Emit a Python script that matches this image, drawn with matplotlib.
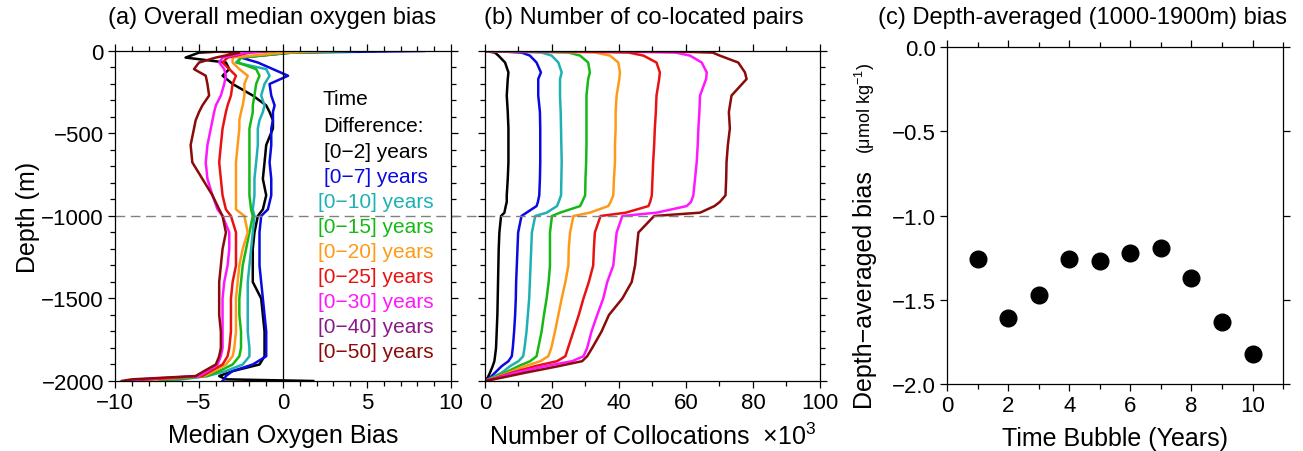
import numpy as np
import matplotlib
matplotlib.use("Agg")
import matplotlib.pyplot as plt
from matplotlib.ticker import MultipleLocator, FuncFormatter

plt.rcParams['font.family'] = ['Liberation Sans', 'DejaVu Sans']
plt.rcParams['mathtext.fontset'] = 'custom'
plt.rcParams['mathtext.rm'] = 'Liberation Sans'
plt.rcParams['mathtext.it'] = 'Liberation Sans'

# time-difference windows
windows = ["[0\u22122] years", "[0\u22127] years", "[0\u221210] years", "[0\u221215] years",
           "[0\u221220] years", "[0\u221225] years", "[0\u221230] years", "[0\u221240] years",
           "[0\u221250] years"]
colors = ["#000000", "#0a0ae0", "#1fb0b4", "#16b816", "#ff9a18",
          "#e81212", "#ff18ff", "#8a1a8a", "#8b0a0a"]
# windows that have a drawn profile (the [0-40] profile sits under [0-50])
drawn = [0, 1, 2, 3, 4, 5, 6, 8]

# (a) median oxygen bias profiles
depth_a = [0, 10, 40, 70, 110, 150, 200, 270, 330, 370, 420, 470, 570, 675, 775, 875,
           960, 1000, 1100, 1200, 1300, 1400, 1500, 1600, 1700, 1800, 1850, 1900,
           1940, 1970, 1990, 2000]
bias = {
    0: [-3.0, -5.0, -5.8, -3.4, -3.2, -3.6, -3.0, -1.8, -1.0, -0.8, -0.6, -0.6, -1.0, -1.1,
        -1.2, -1.0, -1.2, -1.5, -1.7, -1.8, -1.8, -1.8, -1.3, -1.2, -1.1, -1.1, -1.1, -1.4,
        -3.0, -3.8, -3.4, 1.8],
    1: [8.4, 0.5, -2.5, -1.5, -0.6, 0.3, -0.8, -0.7, -0.5, -0.6, -0.6, -0.7, -0.7, -0.8,
        -0.7, -0.7, -0.9, -1.3, -1.4, -1.4, -1.4, -1.3, -1.2, -1.1, -1.0, -1.0, -1.0, -1.8,
        -3.0, -3.4, -3.5, -3.6],
    2: [3.5, 0.0, -2.5, -2.8, -1.0, -0.8, -1.1, -1.3, -1.1, -1.2, -1.4, -1.5, -1.5, -1.6,
        -1.7, -1.7, -1.8, -1.7, -1.8, -1.9, -2.0, -2.1, -2.1, -2.1, -2.1, -2.0, -2.0, -2.4,
        -3.4, -4.5, -6.0, -6.7],
    3: [4.3, 0.5, -2.5, -2.7, -1.6, -1.4, -1.6, -1.7, -1.8, -1.8, -1.9, -2.0, -2.0, -2.0,
        -2.0, -2.0, -1.9, -1.8, -2.0, -2.2, -2.4, -2.5, -2.6, -2.6, -2.5, -2.5, -2.6, -3.0,
        -3.8, -4.5, -6.5, -7.4],
    4: [2.7, 0.0, -3.0, -3.0, -2.6, -2.1, -2.3, -2.3, -2.4, -2.5, -2.6, -2.6, -2.7, -2.8,
        -2.8, -2.8, -2.8, -2.3, -2.1, -2.4, -2.6, -2.7, -2.8, -2.8, -2.8, -2.9, -3.0, -3.4,
        -4.1, -4.7, -7.5, -8.8],
    5: [-0.5, -2.0, -3.3, -3.6, -3.2, -2.8, -3.0, -3.1, -3.3, -3.4, -3.5, -3.6, -3.7, -3.8,
        -3.7, -3.6, -3.4, -3.1, -2.8, -2.8, -2.8, -3.0, -3.1, -3.1, -3.1, -3.2, -3.3, -3.6,
        -4.3, -4.8, -8.0, -9.4],
    6: [-1.0, -2.2, -3.6, -3.8, -3.5, -3.4, -3.5, -3.7, -4.0, -4.1, -4.2, -4.3, -4.5, -4.6,
        -4.5, -4.2, -3.9, -3.6, -3.2, -3.2, -3.3, -3.5, -3.6, -3.6, -3.6, -3.6, -3.7, -3.9,
        -4.5, -5.0, -8.5, -9.2],
    8: [-4.8, -2.6, -4.0, -5.0, -5.3, -4.6, -4.5, -4.4, -4.8, -5.0, -5.2, -5.3, -5.5, -5.4,
        -4.8, -4.2, -3.8, -3.6, -3.4, -3.6, -3.7, -3.8, -3.8, -3.8, -3.7, -3.7, -3.8, -4.0,
        -4.7, -5.2, -9.0, -9.6],
}

# (b) number of co-located pairs (x10^3)
depth_b = [0, 3, 10, 28, 70, 130, 170, 270, 370, 470, 570, 675, 775, 875, 915, 940, 980,
           1000, 1100, 1200, 1300, 1400, 1500, 1600, 1700, 1800, 1850, 1880, 1910, 1950,
           1980, 2000]
pairs = {
    0: [0, 1, 3, 4, 6, 7.0, 6.8, 6.5, 6.8, 7.0, 7.0, 7.0, 6.8, 6.5, 6.5, 6.2, 5.8, 4.8,
        4.3, 4.1, 4.0, 3.9, 3.8, 3.7, 3.5, 3.3, 3.0, 2.8, 2.3, 1.5, 0.8, 0],
    1: [0, 5, 11, 13.4, 15.4, 16.7, 15.9, 15.9, 16.4, 16.5, 16.5, 16.5, 16.4, 16.2, 15.8,
        15.4, 12.4, 10.9, 9.9, 9.7, 9.5, 9.3, 9.2, 9.0, 8.7, 8.3, 8.0, 7.0, 5.0, 3.0, 1.5, 0],
    2: [0, 8, 17, 19.9, 21.9, 22.9, 22.4, 22.4, 22.6, 22.7, 22.8, 22.9, 22.8, 22.7, 22.0,
        21.5, 18.4, 15.0, 14.0, 13.8, 13.6, 13.4, 13.2, 12.8, 12.4, 11.8, 11.4, 10.0, 7.5,
        5.0, 2.0, 0],
    3: [0, 12, 25, 28.4, 30.8, 31.3, 30.8, 30.3, 30.3, 30.3, 30.3, 30.2, 30.0, 29.9, 29.0,
        28.4, 22.4, 20.0, 19.4, 19.4, 19.4, 19.0, 18.4, 17.6, 16.9, 15.9, 15.4, 13.5, 10.0,
        6.0, 2.5, 0],
    4: [0, 18, 33, 37.3, 39.8, 40.3, 40.1, 39.3, 39.0, 39.0, 38.8, 38.8, 38.5, 38.3, 37.5,
        36.8, 31.3, 26.4, 25.4, 25.0, 24.9, 24.0, 22.9, 21.9, 20.9, 19.8, 18.9, 16.5, 12.0,
        7.0, 3.0, 0],
    5: [0, 28, 43, 47.3, 51.2, 52.2, 52.0, 51.2, 51.0, 50.7, 50.5, 50.2, 50.0, 49.8, 49.3,
        48.8, 42.0, 34.5, 32.8, 32.5, 32.3, 31.0, 29.4, 28.0, 26.4, 24.8, 24.0, 21.5, 15.0,
        8.0, 3.5, 0],
    6: [0, 40, 57, 61.2, 64.7, 66.2, 66.0, 64.2, 64.0, 63.7, 63.5, 63.2, 62.7, 62.2, 61.5,
        60.2, 51.2, 41.0, 39.3, 38.8, 38.3, 36.5, 35.3, 33.5, 31.8, 30.5, 29.4, 26.0, 18.0,
        9.0, 4.0, 0],
    8: [0, 57, 68, 70.1, 75.6, 77.6, 78.1, 73.6, 72.8, 73.1, 72.5, 72.1, 72.0, 71.8, 70.1,
        68.5, 64.2, 50.5, 45.8, 45.3, 44.8, 43.8, 41.0, 37.0, 34.8, 32.0, 30.5, 29.0, 22.0,
        12.0, 5.0, 0],
}

# (c) depth-averaged bias per time bubble
bubble_years = [1, 2, 3, 4, 5, 6, 7, 8, 9, 10]
avg_bias = [-1.26, -1.61, -1.47, -1.26, -1.27, -1.22, -1.19, -1.37, -1.63, -1.82]

FS = 16
LFS = 18


def style_axis(ax):
    ax.tick_params(which='both', direction='out', top=True, right=True,
                   labelsize=FS, width=0.9, pad=3)
    ax.tick_params(which='major', length=5)
    ax.tick_params(which='minor', length=3.5)
    for s in ax.spines.values():
        s.set_linewidth(0.9)


fig = plt.figure(figsize=(13.03, 4.52), dpi=100)
ax_a = fig.add_axes([0.0883, 0.1549, 0.2578, 0.7301])
ax_b = fig.add_axes([0.3722, 0.1549, 0.2571, 0.7301])
ax_c = fig.add_axes([0.7268, 0.1482, 0.2579, 0.7456])

# panel (a)
for i in drawn:
    ax_a.plot(bias[i], [-d for d in depth_a], color=colors[i], lw=1.8)
ax_a.axvline(0, color='black', lw=0.9)
ax_a.axhline(-1000, xmin=0, xmax=1.105, color='#808080', lw=1.0, dashes=(7, 4),
             clip_on=False)
ax_a.set_xlim(-10, 10)
ax_a.set_ylim(-2000, 0)
ax_a.xaxis.set_major_locator(MultipleLocator(5))
ax_a.xaxis.set_minor_locator(MultipleLocator(1))
ax_a.yaxis.set_major_locator(MultipleLocator(500))
ax_a.yaxis.set_minor_locator(MultipleLocator(100))
style_axis(ax_a)
ax_a.set_ylabel("Depth (m)", fontsize=LFS, labelpad=1)
ax_a.set_xlabel("Median Oxygen Bias", fontsize=LFS, labelpad=7)

ax_a.text(0.619, 0.855, "Time", transform=ax_a.transAxes, fontsize=15,
          ha='left', va='center')
ax_a.text(0.619, 0.773, "Difference:", transform=ax_a.transAxes, fontsize=15,
          ha='left', va='center')
for k, (lab, col) in enumerate(zip(windows, colors)):
    ax_a.text(0.777, 0.694 - 0.0754 * k, lab, transform=ax_a.transAxes, fontsize=15,
              color=col, ha='center', va='center')

# panel (b)
for i in drawn:
    ax_b.plot(pairs[i], [-d for d in depth_b], color=colors[i], lw=1.8)
ax_b.axhline(-1000, color='#808080', lw=1.0, dashes=(7, 4))
ax_b.set_xlim(0, 100)
ax_b.set_ylim(-2000, 0)
ax_b.xaxis.set_major_locator(MultipleLocator(20))
ax_b.xaxis.set_minor_locator(MultipleLocator(10))
ax_b.yaxis.set_major_locator(MultipleLocator(500))
ax_b.yaxis.set_minor_locator(MultipleLocator(100))
style_axis(ax_b)
ax_b.tick_params(axis='y', which='both', labelleft=False)
ax_b.set_xlabel("Number of Collocations  \u00d710$^{3}$", fontsize=LFS, labelpad=7)

# panel (c)
ax_c.plot(bubble_years, avg_bias, 'o', color='black', ms=12)
ax_c.set_xlim(0, 11)
ax_c.set_ylim(-2.0, 0.0)
ax_c.xaxis.set_major_locator(MultipleLocator(2))
ax_c.xaxis.set_minor_locator(MultipleLocator(1))
ax_c.yaxis.set_major_locator(MultipleLocator(0.5))
ax_c.yaxis.set_major_formatter(FuncFormatter(lambda v, p: f"{v:.1f}".replace("-", "\u2212")))
style_axis(ax_c)
ax_c.set_xlabel("Time Bubble (Years)", fontsize=LFS, labelpad=7)
ax_c.text(-0.244, 0.282, "Depth\u2212averaged bias", transform=ax_c.transAxes,
          rotation=90, fontsize=LFS, ha='center', va='center')
ax_c.text(-0.244, 0.822, "(\u03bcmol kg$^{-1}$)", transform=ax_c.transAxes,
          rotation=90, fontsize=13, ha='center', va='center')

# panel titles
title_y = 1 - 18 / 452
fig.text(272 / 1303, title_y, "(a) Overall median oxygen bias", fontsize=17,
         ha='center', va='center')
fig.text(644 / 1303, title_y, "(b) Number of co-located pairs", fontsize=17,
         ha='center', va='center')
fig.text(1083 / 1303, title_y, "(c) Depth-averaged (1000-1900m) bias", fontsize=17,
         ha='center', va='center')

fig.savefig("out.png", dpi=100)
